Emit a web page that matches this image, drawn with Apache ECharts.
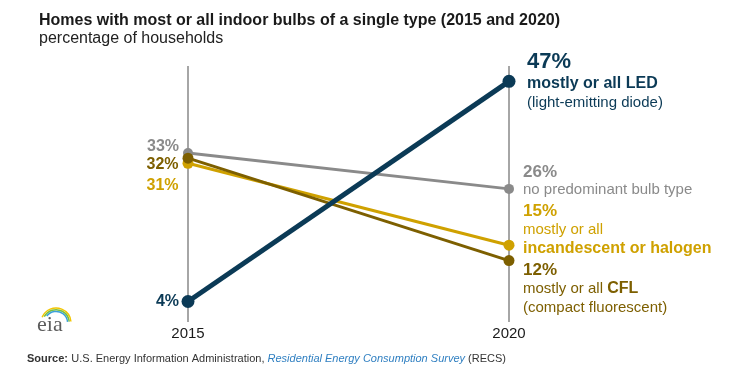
<!DOCTYPE html>
<html>
<head>
<meta charset="utf-8">
<script src="https://cdn.jsdelivr.net/npm/echarts@6/dist/echarts.min.js"></script>
<style>
html,body{margin:0;padding:0;background:#fff;}
#main{width:745px;height:371px;}
</style>
</head>
<body>
<div id="main"></div>
<script>
// ---- data ----
const years = [2015, 2020];
const seriesNames = ['no predominant bulb type', 'mostly or all incandescent or halogen', 'mostly or all CFL', 'mostly or all LED'];
const noPredominant = [33, 26];
const incandescent = [31, 15];
const cfl = [32, 12];
const led = [4, 47];
const title = 'Homes with most or all indoor bulbs of a single type (2015 and 2020)';
const subtitle = 'percentage of households';

// ---- styles ----
const FONT = '"Liberation Sans", Arial, sans-serif';
const C_NAVY = '#0b3a56';
const C_GREY = '#8a8a8a';
const C_GOLD = '#cfa100';
const C_DKGOLD = '#7d5f00';
const C_AXIS = '#a6a6a6';

function pct(v) { return v + '%'; }

function makeSeries(name, values, color, lineWidth, symSize, leftLabel, rightLabel) {
  return {
    name: name,
    type: 'line',
    data: years.map((y, i) => ({
      value: [y, values[i]],
      label: i === 0 ? leftLabel : rightLabel
    })),
    symbol: 'circle',
    symbolSize: symSize,
    showSymbol: true,
    lineStyle: { color: color, width: lineWidth },
    itemStyle: { color: color },
    emphasis: { disabled: true },
    silent: true,
    z: 2
  };
}

function leftLbl(color, dy, dist) {
  return {
    show: true, position: 'left', distance: dist, offset: [0, dy],
    formatter: p => pct(p.value[1]),
    fontFamily: FONT, fontSize: 16, fontWeight: 'bold', color: color
  };
}

const series = [
  makeSeries(seriesNames[0], noPredominant, C_GREY, 3, 10,
    leftLbl(C_GREY, -6.5, 4),
    {
      show: true, position: 'right', distance: 9, offset: [0, -8],
      formatter: p => '{p|' + pct(p.value[1]) + '}\n{r|no predominant bulb type}',
      rich: {
        p: { fontFamily: FONT, fontSize: 17, fontWeight: 'bold', color: C_GREY, lineHeight: 18 },
        r: { fontFamily: FONT, fontSize: 15, color: C_GREY, lineHeight: 18 }
      }
    }),
  makeSeries(seriesNames[1], incandescent, C_GOLD, 3, 11,
    leftLbl(C_GOLD, 22.7, 4),
    {
      show: true, position: 'right', distance: 8.5, offset: [0, -15],
      formatter: p => '{p|' + pct(p.value[1]) + '}\n{r|mostly or all}\n{b|incandescent or halogen}',
      rich: {
        p: { fontFamily: FONT, fontSize: 17, fontWeight: 'bold', color: C_GOLD, lineHeight: 18.5 },
        r: { fontFamily: FONT, fontSize: 15, color: C_GOLD, lineHeight: 18.5 },
        b: { fontFamily: FONT, fontSize: 16, fontWeight: 'bold', color: C_GOLD, lineHeight: 18.5 }
      }
    }),
  makeSeries(seriesNames[2], cfl, C_DKGOLD, 3, 11,
    leftLbl(C_DKGOLD, 6.7, 4),
    {
      show: true, position: 'right', distance: 8.5, offset: [0, 28.5],
      formatter: p => '{p|' + pct(p.value[1]) + '}\n{r|mostly or all }{b|CFL}\n{r|(compact fluorescent)}',
      rich: {
        p: { fontFamily: FONT, fontSize: 17, fontWeight: 'bold', color: C_DKGOLD, lineHeight: 18.5 },
        r: { fontFamily: FONT, fontSize: 15, color: C_DKGOLD, lineHeight: 18.5 },
        b: { fontFamily: FONT, fontSize: 16, fontWeight: 'bold', color: C_DKGOLD, lineHeight: 18.5 }
      }
    }),
  makeSeries(seriesNames[3], led, C_NAVY, 5, 13,
    leftLbl(C_NAVY, 0, 2.5),
    {
      show: true, position: 'right', distance: 11.5, offset: [0, 0],
      formatter: p => '{p|' + pct(p.value[1]) + '}\n{b|mostly or all LED}\n{r|(light-emitting diode)}',
      rich: {
        p: { fontFamily: FONT, fontSize: 22, fontWeight: 'bold', color: C_NAVY, lineHeight: 24 },
        b: { fontFamily: FONT, fontSize: 16, fontWeight: 'bold', color: C_NAVY, lineHeight: 19 },
        r: { fontFamily: FONT, fontSize: 15, color: C_NAVY, lineHeight: 19 }
      }
    })
];

const chart = echarts.init(document.getElementById('main'), null, { renderer: 'canvas' });
chart.setOption({
  animation: false,
  backgroundColor: '#ffffff',
  grid: { left: 188, right: 236, top: 66, bottom: 49, containLabel: false },
  xAxis: {
    type: 'value', min: years[0], max: years[1], interval: years[1] - years[0],
    axisLine: { show: false }, axisTick: { show: false },
    splitLine: { show: true, lineStyle: { color: C_AXIS, width: 2 } },
    axisLabel: {
      show: true, showMinLabel: true, showMaxLabel: true, margin: 4,
      formatter: v => String(v), fontFamily: FONT, fontSize: 15, color: '#1a1a1a'
    }
  },
  yAxis: {
    type: 'value', min: 0, max: 50, show: false,
    splitLine: { show: false }
  },
  series: series,
  graphic: [
    { type: 'text', x: 39, y: 20.5, silent: true,
      style: { text: title, font: 'bold 16px ' + FONT, fill: '#1a1a1a', verticalAlign: 'middle' } },
    { type: 'text', x: 39, y: 39, silent: true,
      style: { text: subtitle, font: '16px ' + FONT, fill: '#222222', verticalAlign: 'middle' } },
    { type: 'text', x: 27, y: 359, silent: true,
      style: {
        text: '{b|Source:} {n|U.S. Energy Information Administration, }{i|Residential Energy Consumption Survey}{n| (RECS)}',
        verticalAlign: 'middle',
        rich: {
          b: { fontFamily: FONT, fontSize: 11, fontWeight: 'bold', fill: '#333333' },
          n: { fontFamily: FONT, fontSize: 11, fill: '#333333' },
          i: { fontFamily: FONT, fontSize: 11, fontStyle: 'italic', fill: '#2f7fc1' }
        }
      } },
    // eia logo
    { type: 'arc', silent: true, shape: { cx: 56, cy: 323, r: 15, startAngle: -2.75, endAngle: -0.1 },
      style: { stroke: '#f2c500', lineWidth: 1.5, fill: null } },
    { type: 'arc', silent: true, shape: { cx: 56, cy: 323, r: 13.3, startAngle: -2.65, endAngle: -0.1 },
      style: { stroke: '#7cbf3a', lineWidth: 1.5, fill: null } },
    { type: 'arc', silent: true, shape: { cx: 56, cy: 323, r: 11.6, startAngle: -2.5, endAngle: -0.1 },
      style: { stroke: '#3aa0d8', lineWidth: 1.5, fill: null } },
    { type: 'text', x: 37, y: 325, silent: true,
      style: { text: 'eia', font: '22px "Liberation Serif", "DejaVu Serif", serif', fill: '#5c5c5c', verticalAlign: 'middle' } }
  ]
});
</script>
</body>
</html>
